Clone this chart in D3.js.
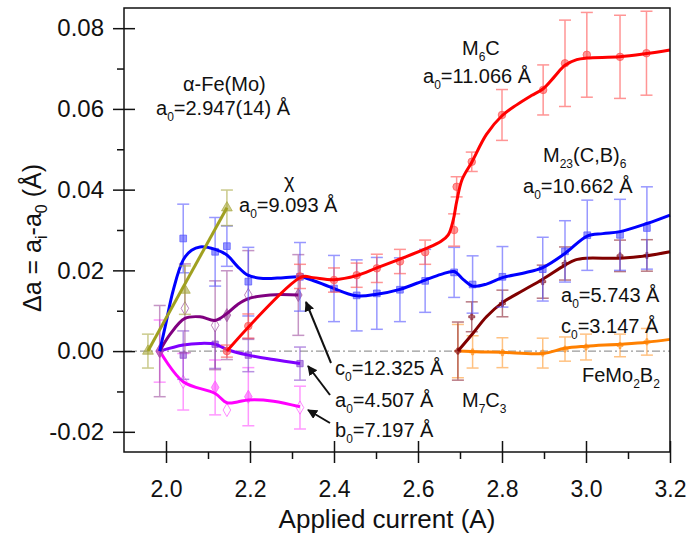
<!DOCTYPE html>
<html>
<head>
<meta charset="utf-8">
<script src="https://cdn.jsdelivr.net/npm/d3@7"></script>
<style>
body { margin: 0; background: #fff; }
text { font-family: "Liberation Sans", Arial, sans-serif; fill: #111; }
</style>
</head>
<body>
<div id="chart"></div>
<script>
const WIDTH = 693;
const HEIGHT = 533;

// axis ticks
const X_MAJOR = [2.0, 2.2, 2.4, 2.6, 2.8, 3.0, 3.2];
const X_MINOR = [2.1, 2.3, 2.5, 2.7, 2.9, 3.1];
const Y_MAJOR = [-0.02, 0.00, 0.02, 0.04, 0.06, 0.08];
const Y_MINOR = [-0.01, 0.01, 0.03, 0.05, 0.07];

// alpha-Fe(Mo)
const feX = [1.957, 2.045, 2.145];
const feY = [0, 0.0151, 0.0355];
const feErr = [0.0042, 0.006, 0.0044];
const feFitX = [1.957, 2.145];
const feFitY = [0, 0.0355];

// M23(C,B)6
const m23X = [2.041, 2.117, 2.145, 2.196, 2.319, 2.4, 2.454, 2.502, 2.557, 2.617, 2.686, 2.73, 2.801, 2.897, 2.95, 3.003, 3.081, 3.145];
const m23Y = [0.0279, 0.0246, 0.026, 0.0172, 0.0184, 0.0155, 0.0138, 0.0143, 0.0152, 0.0174, 0.0195, 0.0165, 0.0184, 0.0203, 0.0247, 0.0287, 0.0288, 0.0305];
const m23Err = [0.0085, 0.0085, 0.005, 0.0085, 0.0085, 0.0082, 0.0088, 0.0089, 0.0079, 0.0078, 0.0062, 0.0071, 0.0075, 0.0079, 0.0076, 0.0087, 0.0088, 0.0102];
const m23FitX = [1.985, 2.0, 2.017, 2.041, 2.061, 2.081, 2.117, 2.145, 2.17, 2.195, 2.231, 2.28, 2.319, 2.35, 2.39, 2.454, 2.502, 2.557, 2.617, 2.655, 2.686, 2.708, 2.73, 2.763, 2.801, 2.85, 2.897, 2.95, 3.003, 3.04, 3.081, 3.145, 3.2];
const m23FitY = [0, 0.007, 0.015, 0.0226, 0.025, 0.0258, 0.0252, 0.0238, 0.021, 0.0188, 0.018, 0.0182, 0.0184, 0.0175, 0.0159, 0.0137, 0.0141, 0.0153, 0.0176, 0.019, 0.0197, 0.0177, 0.0161, 0.0166, 0.0182, 0.0193, 0.0207, 0.0242, 0.0285, 0.0291, 0.0296, 0.0316, 0.0337];

// M6C
const m6X = [2.145, 2.196, 2.319, 2.4, 2.454, 2.502, 2.557, 2.617, 2.686, 2.692, 2.728, 2.8, 2.898, 2.95, 3.002, 3.081, 3.144];
const m6Y = [0, 0.0062, 0.0185, 0.0176, 0.0188, 0.0205, 0.0222, 0.0245, 0.030, 0.0407, 0.0469, 0.0585, 0.0647, 0.0713, 0.0734, 0.0729, 0.0738];
const m6Err = [0.0015, 0.003, 0.003, 0.003, 0.003, 0.0035, 0.003, 0.003, 0.004, 0.0025, 0.0024, 0.0063, 0.0062, 0.0107, 0.0105, 0.0103, 0.0104];
const m6FitX = [2.145, 2.323, 2.35, 2.4, 2.454, 2.502, 2.557, 2.617, 2.655, 2.672, 2.684, 2.692, 2.705, 2.728, 2.763, 2.8, 2.835, 2.87, 2.898, 2.925, 2.95, 2.978, 3.002, 3.08, 3.144, 3.2];
const m6FitY = [0, 0.0184, 0.0182, 0.0177, 0.0187, 0.0206, 0.0228, 0.0253, 0.0272, 0.0288, 0.0325, 0.037, 0.0425, 0.0468, 0.0537, 0.0583, 0.061, 0.0633, 0.065, 0.068, 0.0708, 0.0722, 0.0726, 0.0729, 0.0737, 0.0746];

// M7C3
const m7X = [2.695, 2.728, 2.801, 2.897, 2.95, 3.081, 3.145];
const m7Y = [0, 0.0085, 0.0118, 0.0172, 0.0217, 0.0236, 0.0237];
const m7Err = [0.0072, 0.0037, 0.0033, 0.0041, 0.0041, 0.0039, 0.0039];
const m7FitX = [2.695, 2.73, 2.763, 2.801, 2.85, 2.897, 2.95, 2.975, 3.0, 3.081, 3.145, 3.2];
const m7FitY = [0, 0.0043, 0.0085, 0.012, 0.015, 0.0178, 0.0213, 0.0226, 0.023, 0.023, 0.0236, 0.0246];

// FeMo2B2
const fbX = [2.695, 2.73, 2.801, 2.897, 2.95, 3.0, 3.081, 3.145];
const fbY = [0, -0.0002, -0.0004, -0.0005, 0.0005, 0.001, 0.0014, 0.0023];
const fbErr = [0.0066, 0.004, 0.0037, 0.0037, 0.003, 0.0032, 0.0028, 0.0033];
const fbFitX = [2.695, 2.75, 2.801, 2.897, 2.95, 3.0, 3.081, 3.145, 3.2];
const fbFitY = [0, -0.0002, -0.0003, -0.0006, 0.0007, 0.0012, 0.0017, 0.0022, 0.0029];

// chi, c0
const chiX = [1.985, 2.045, 2.117, 2.145, 2.196, 2.315];
const chiY = [0, 0.0106, 0.0064, 0.0089, 0.0139, 0.0139];
const chiErr = [0.0113, 0.011, 0.011, 0.011, 0.011, 0.01];
const chiOpen = [false, true, true, false, true, false];
const chiFitX = [1.985, 2.01, 2.045, 2.081, 2.117, 2.145, 2.17, 2.196, 2.248, 2.315];
const chiFitY = [0, 0.0042, 0.0081, 0.0085, 0.0076, 0.0093, 0.0115, 0.013, 0.0139, 0.0139];

// chi, a0
const chaX = [2.041, 2.117, 2.196, 2.319];
const chaY = [-0.001, 0.0017, -0.001, -0.0031];
const chaErr = [0.006, 0.006, 0.0041, 0.0041];
const chaFitX = [1.985, 2.041, 2.081, 2.117, 2.145, 2.196, 2.256, 2.319];
const chaFitY = [0, 0.0015, 0.0019, 0.0017, 0.0004, -0.001, -0.0021, -0.0031];

// chi, b0
const chbX = [1.985, 2.041, 2.117, 2.145, 2.196, 2.319];
const chbY = [0, -0.0076, -0.009, -0.0146, -0.0113, -0.014];
const chbErr = [0.0077, 0.007, 0.0068, 0, 0.0072, 0.0053];
const chbOpen = [false, true, false, true, false, true];
const chbFitX = [1.985, 2.041, 2.117, 2.145, 2.17, 2.196, 2.256, 2.319];
const chbFitY = [0, -0.0076, -0.0105, -0.0128, -0.0126, -0.0121, -0.0124, -0.0138];

let svg = d3.select("#chart")
    .append("svg")
    .attr("width", WIDTH)
    .attr("height", HEIGHT);

let x = d3.scaleLinear().domain([1.9, 3.2]).range([124, 670]);
let y = d3.scaleLinear().domain([-0.025, 0.085]).range([452, 8]);

let defs = svg.append("defs");
defs.append("marker")
    .attr("id", "arrow")
    .attr("viewBox", "0 0 10 10")
    .attr("refX", 9)
    .attr("refY", 5)
    .attr("markerWidth", 5)
    .attr("markerHeight", 5)
    .attr("orient", "auto")
    .append("path")
    .attr("d", "M0,0 L10,5 L0,10 z")
    .attr("fill", "#111");

// zero line
svg.append("line")
    .attr("x1", x(1.9)).attr("x2", x(3.2))
    .attr("y1", y(0)).attr("y2", y(0))
    .attr("stroke", "#999")
    .attr("stroke-width", 1.2)
    .attr("stroke-dasharray", "8,3,2,3");

function drawSeries(xs, ys, errs, opts) {
    let g = svg.append("g");
    let pts = xs.map((v, i) => ({x: v, y: ys[i], e: errs ? errs[i] : 0, open: opts.open ? opts.open[i] : false}));

    // error bars
    let eb = g.selectAll("g.err")
        .data(pts.filter(d => d.e > 0))
        .enter()
        .append("g")
        .attr("stroke", opts.light)
        .attr("stroke-width", 1.5)
        .attr("opacity", 0.6);
    eb.append("line")
        .attr("x1", d => x(d.x)).attr("x2", d => x(d.x))
        .attr("y1", d => y(d.y - d.e)).attr("y2", d => y(d.y + d.e));
    eb.append("line")
        .attr("x1", d => x(d.x) - 6).attr("x2", d => x(d.x) + 6)
        .attr("y1", d => y(d.y + d.e)).attr("y2", d => y(d.y + d.e));
    eb.append("line")
        .attr("x1", d => x(d.x) - 6).attr("x2", d => x(d.x) + 6)
        .attr("y1", d => y(d.y - d.e)).attr("y2", d => y(d.y - d.e));

    // markers
    let sym = d3.symbol().type(opts.symbol).size(opts.size || 50);
    g.selectAll("path.pt")
        .data(pts)
        .enter()
        .append("path")
        .attr("class", "pt")
        .attr("d", sym)
        .attr("transform", d => `translate(${x(d.x)},${y(d.y)})`)
        .attr("fill", d => d.open ? "#fff" : opts.light)
        .attr("fill-opacity", 0.6)
        .attr("stroke", opts.light)
        .attr("stroke-opacity", 0.7)
        .attr("stroke-width", 1);

    // fitted curve
    let fit = opts.fitX.map((v, i) => [v, opts.fitY[i]]);
    let line = d3.line()
        .x(d => x(d[0]))
        .y(d => y(d[1]))
        .curve(opts.straight ? d3.curveLinear : d3.curveCatmullRom.alpha(0.5));
    g.append("path")
        .attr("d", line(fit))
        .attr("fill", "none")
        .attr("stroke", opts.color)
        .attr("stroke-width", 3)
        .attr("stroke-linejoin", "round");
}

drawSeries(chbX, chbY, chbErr, {color: "#ff00ff", light: "#ff55ff", symbol: d3.symbolDiamond, open: chbOpen, fitX: chbFitX, fitY: chbFitY});
drawSeries(chaX, chaY, chaErr, {color: "#7f00ff", light: "#8a4ad0", symbol: d3.symbolSquare, size: 40, fitX: chaFitX, fitY: chaFitY});
drawSeries(chiX, chiY, chiErr, {color: "#800080", light: "#a050a0", symbol: d3.symbolDiamond, open: chiOpen, fitX: chiFitX, fitY: chiFitY});
drawSeries(fbX, fbY, fbErr, {color: "#ff8000", light: "#ff9a30", symbol: d3.symbolCross, size: 20, fitX: fbFitX, fitY: fbFitY});
drawSeries(m7X, m7Y, m7Err, {color: "#800000", light: "#8a2030", symbol: d3.symbolCross, size: 20, fitX: m7FitX, fitY: m7FitY});
drawSeries(m23X, m23Y, m23Err, {color: "#0000ff", light: "#5555ff", symbol: d3.symbolSquare, size: 45, fitX: m23FitX, fitY: m23FitY});
drawSeries(m6X, m6Y, m6Err, {color: "#ff0000", light: "#ff5050", symbol: d3.symbolCircle, size: 45, fitX: m6FitX, fitY: m6FitY});
drawSeries(feX, feY, feErr, {color: "#a0a020", light: "#a8a840", symbol: d3.symbolTriangle, size: 50, straight: true, fitX: feFitX, fitY: feFitY});

// axes
let xAxis = svg.append("g")
    .attr("transform", `translate(0,${y(-0.025)})`)
    .call(d3.axisBottom(x).tickValues(X_MAJOR).tickSize(11).tickPadding(18).tickFormat(v => v.toFixed(1)));
xAxis.select(".domain").remove();
xAxis.selectAll(".tick line").attr("y1", -11).attr("stroke", "#111").attr("stroke-width", 1.5);
xAxis.selectAll(".tick text").style("font-size", "23px").attr("fill", "#111");

let xMinor = svg.append("g")
    .attr("transform", `translate(0,${y(-0.025)})`)
    .call(d3.axisBottom(x).tickValues(X_MINOR).tickSize(7).tickFormat(""));
xMinor.select(".domain").remove();
xMinor.selectAll(".tick line").attr("stroke", "#111").attr("stroke-width", 1.5);

let yAxis = svg.append("g")
    .attr("transform", `translate(${x(1.9)},0)`)
    .call(d3.axisLeft(y).tickValues(Y_MAJOR).tickSize(11).tickPadding(9).tickFormat(v => v.toFixed(2)));
yAxis.select(".domain").remove();
yAxis.selectAll(".tick line").attr("x1", 11).attr("stroke", "#111").attr("stroke-width", 1.5);
yAxis.selectAll(".tick text").style("font-size", "24px").attr("fill", "#111");

let yMinor = svg.append("g")
    .attr("transform", `translate(${x(1.9)},0)`)
    .call(d3.axisLeft(y).tickValues(Y_MINOR).tickSize(7).tickFormat(""));
yMinor.select(".domain").remove();
yMinor.selectAll(".tick line").attr("stroke", "#111").attr("stroke-width", 1.5);

// frame
svg.append("rect")
    .attr("x", x(1.9)).attr("y", y(0.085))
    .attr("width", x(3.2) - x(1.9))
    .attr("height", y(-0.025) - y(0.085))
    .attr("fill", "none")
    .attr("stroke", "#111")
    .attr("stroke-width", 1.5);

// axis titles
svg.append("text")
    .attr("x", (x(1.9) + x(3.2)) / 2 - 10)
    .attr("y", 528)
    .attr("text-anchor", "middle")
    .style("font-size", "26px")
    .text("Applied current (A)");

function richText(parent, px, py, parts, size, anchor) {
    let t = parent.append("text")
        .attr("x", px)
        .attr("y", py)
        .attr("text-anchor", anchor || "start")
        .style("font-size", size + "px");
    let shift = 0;
    parts.forEach(p => {
        let s = t.append("tspan").text(p[0]);
        if (p[1]) {
            s.attr("dy", 6 - shift).style("font-size", Math.round(size * 0.62) + "px");
            shift = 6;
        } else {
            if (shift) s.attr("dy", -shift);
            shift = 0;
        }
    });
    return t;
}

let ylab = svg.append("g").attr("transform", "translate(41,238) rotate(-90)");
richText(ylab, 0, 0, [["Δa = a"], ["i", true], ["-a"], ["0", true], ["  (Å)"]], 25, "middle");

// annotations
richText(svg, 183, 91, [["α-Fe(Mo)"]], 20);
richText(svg, 156, 115, [["a"], ["0", true], ["=2.947(14) Å"]], 20);
richText(svg, 284, 188, [["χ"]], 20);
richText(svg, 239, 212, [["a"], ["0", true], ["=9.093 Å"]], 20);
richText(svg, 462, 55, [["M"], ["6", true], ["C"]], 20);
richText(svg, 423, 83, [["a"], ["0", true], ["=11.066 Å"]], 20);
richText(svg, 543, 162, [["M"], ["23", true], ["(C,B)"], ["6", true]], 20);
richText(svg, 523, 193, [["a"], ["0", true], ["=10.662 Å"]], 20);
richText(svg, 561, 302, [["a"], ["0", true], ["=5.743 Å"]], 20);
richText(svg, 561, 333, [["c"], ["0", true], ["=3.147 Å"]], 20);
richText(svg, 582, 382, [["FeMo"], ["2", true], ["B"], ["2", true]], 20);
richText(svg, 335, 375, [["c"], ["0", true], ["=12.325 Å"]], 20);
richText(svg, 335, 407, [["a"], ["0", true], ["=4.507 Å"]], 20);
richText(svg, 335, 437, [["b"], ["0", true], ["=7.197 Å"]], 20);
richText(svg, 462, 407, [["M"], ["7", true], ["C"], ["3", true]], 20);

// arrows pointing to the chi points
const arrowFrom = [[331, 363], [330, 395], [330, 423]];
const arrowTo = [[306, 302], [308, 366], [308, 410]];
arrowFrom.forEach((a, i) => {
    svg.append("line")
        .attr("x1", a[0]).attr("y1", a[1])
        .attr("x2", arrowTo[i][0]).attr("y2", arrowTo[i][1])
        .attr("stroke", "#111")
        .attr("stroke-width", 2)
        .attr("marker-end", "url(#arrow)");
});
</script>
</body>
</html>
